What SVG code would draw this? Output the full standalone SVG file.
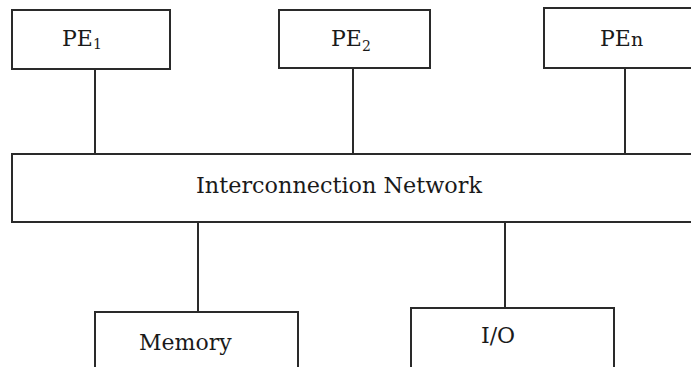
<svg xmlns="http://www.w3.org/2000/svg" width="691" height="367" viewBox="0 0 691 367">
<style>
.box{fill:#fff;stroke:#2a2a2a;stroke-width:2}
.ln{stroke:#2a2a2a;stroke-width:2;fill:none}
text{font-family:"DejaVu Serif","Liberation Serif",serif;font-size:22px;fill:#1a1a1a}
.sub{font-size:14px}
</style>
<rect width="691" height="367" fill="#fff"/>
<g id="connectors">
<line class="ln" x1="95" y1="69" x2="95" y2="154"/>
<line class="ln" x1="353" y1="68" x2="353" y2="154"/>
<line class="ln" x1="625" y1="68" x2="625" y2="154"/>
<line class="ln" x1="198" y1="222" x2="198" y2="312"/>
<line class="ln" x1="505" y1="222" x2="505" y2="308"/>
</g>
<g id="pe1">
<rect class="box" x="12" y="10" width="158" height="59"/>
<text x="62" y="46">PE<tspan class="sub" dy="3">1</tspan></text>
</g>
<g id="pe2">
<rect class="box" x="279" y="10" width="151" height="58"/>
<text x="331" y="46">PE<tspan class="sub" dy="5">2</tspan></text>
</g>
<g id="pen">
<rect class="box" x="544" y="8" width="160" height="60"/>
<text x="600" y="46">PE<tspan font-size="19px">n</tspan></text>
</g>
<g id="network">
<rect class="box" x="12" y="154" width="690" height="68"/>
<text x="196" y="193" textLength="286" lengthAdjust="spacingAndGlyphs">Interconnection Network</text>
</g>
<g id="memory">
<rect class="box" x="95" y="312" width="203" height="70"/>
<text x="139" y="350">Memory</text>
</g>
<g id="io">
<rect class="box" x="411" y="308" width="203" height="74"/>
<text x="481" y="343">I/O</text>
</g>
</svg>
